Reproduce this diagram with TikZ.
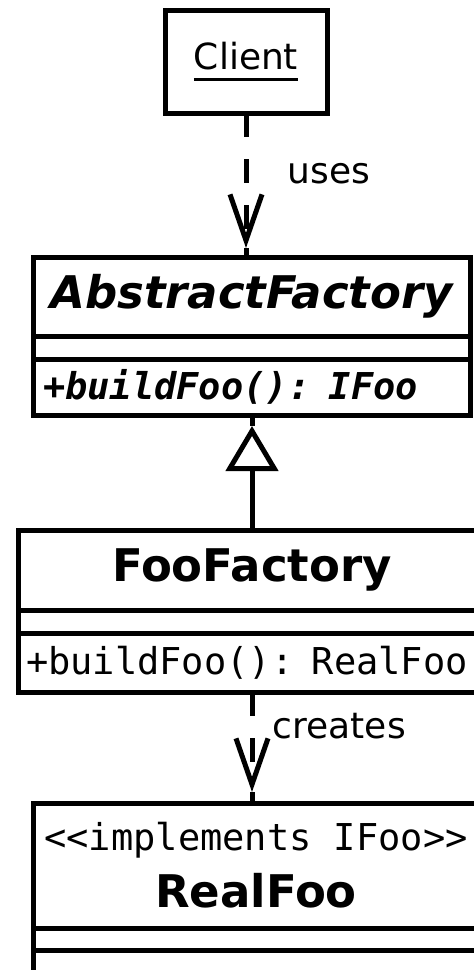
\documentclass[tikz,border=0pt]{standalone}
\usepackage{fontspec}
\setsansfont{DejaVu Sans}
\setmonofont{DejaVu Sans Mono}
\usetikzlibrary{arrows.meta,positioning}
% underlined instance name
\newcommand{\objname}[1]{\setbox0\hbox{#1}\rlap{\rule[-12pt]{\wd0}{3pt}}\box0}
\tikzset{
  uml-part/.style={draw=black, line width=5pt, inner sep=0pt, outer sep=0pt,
    anchor=north west, minimum width=#1},
  uml-name/.style={font=\sffamily\bfseries\fontsize{45}{55}\selectfont, align=center},
  uml-ops/.style={font=\ttfamily\fontsize{37}{44}\selectfont, align=left, inner xsep=#1},
  uml-label/.style={font=\sffamily\fontsize{36}{43}\selectfont},
  uml-dep/.style={line width=5pt, dash pattern=on 24pt off 22pt,
    -{Straight Barb[length=46pt, width=32pt]}},
  uml-gen/.style={line width=5pt, -{Triangle[open, length=45pt, width=52pt]}},
  uml-stem/.style={line width=5pt}
}

\begin{document}
\begin{tikzpicture}[x=1pt, y=-1pt]
  \useasboundingbox (0,0) rectangle (474,970);
  \clip (0,0) rectangle (474,970);

  % Client
  \node[uml-part=162pt, minimum height=103pt, uml-label] (client) at (165,10) {\objname{Client}};

  % AbstractFactory
  \node[uml-part=437pt, minimum height=79pt, uml-name,
    font=\sffamily\bfseries\itshape\fontsize{45}{55}\selectfont] (absname) at (33,257) {AbstractFactory};
  \node[uml-part=437pt, minimum height=23pt, below=0pt of absname] (absattr) {};
  \node[uml-part=437pt, minimum height=56pt, below=0pt of absattr, uml-ops=10pt, text width=417pt,
    font=\ttfamily\bfseries\itshape\fontsize{37}{44}\selectfont] (absops) {+buildFoo(): IFoo};

  % FooFactory
  \node[uml-part=468pt, minimum height=80pt, uml-name] (fooname) at (18,530) {FooFactory};
  \node[uml-part=468pt, minimum height=23pt, below=0pt of fooname] (fooattr) {};
  \node[uml-part=468pt, minimum height=59pt, below=0pt of fooattr, uml-ops=8pt, text width=452pt] (fooops) {+buildFoo(): RealFoo};

  % RealFoo (runs off the page)
  \node[uml-part=446pt, minimum height=125pt, uml-name] (realname) at (33,803)
    {{\mdseries\ttfamily\fontsize{37}{44}\selectfont <<implements IFoo>>}\\[2pt]RealFoo};
  \node[uml-part=446pt, minimum height=22pt, below=0pt of realname] (realattr) {};
  \node[uml-part=446pt, minimum height=60pt, below=0pt of realattr] (realops) {};

  % Connector ends (tips sit a little off the boxes)
  \coordinate (usesend) at (client.south |- absname.north);
  \coordinate[above=9pt of usesend] (usestip);
  \coordinate (genend) at (fooname.north |- absops.south);
  \coordinate[below=11pt of genend] (gentip);
  \coordinate (createsend) at (fooops.south |- realname.north);
  \coordinate[above=11pt of createsend] (createstip);

  % Connectors
  \draw[uml-dep] (client.south) -- node[uml-label, pos=0.52, anchor=base west, xshift=36pt] {uses} (usestip);
  \draw[uml-stem] (usestip) -- (usesend);
  \draw[uml-gen] (fooname.north) -- (gentip);
  \draw[uml-stem] (gentip) -- (genend);
  \draw[uml-dep] (fooops.south) -- node[uml-label, pos=0.46, anchor=base west, xshift=15pt] {creates} (createstip);
  \draw[uml-stem] (createstip) -- (createsend);
\end{tikzpicture}
\end{document}
